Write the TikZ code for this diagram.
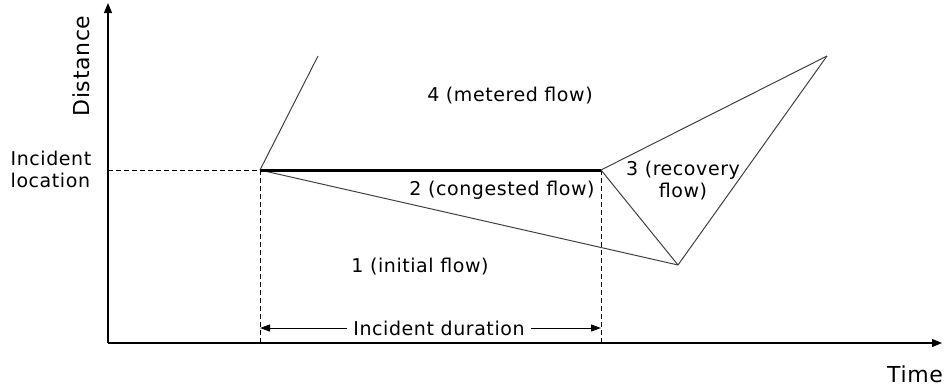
\documentclass[tikz,border=0pt]{standalone}
\usepackage{fontspec}
\setmainfont[LetterSpace=3]{DejaVu Sans}
\usetikzlibrary{arrows.meta}
\begin{document}
\begin{tikzpicture}[x=1pt,y=-1pt,
  axis/.style={line width=1.2pt,-{Triangle[length=10pt,width=8pt]}},
  wave/.style={line width=1pt,draw=black!75},
  guide/.style={line width=1pt,dashed,dash pattern=on 5pt off 3pt},
  lbl/.style={font=\fontsize{19}{22}\selectfont,inner sep=0pt,align=center},
  biglbl/.style={font=\fontsize{22}{26}\selectfont,inner sep=0pt}]
\useasboundingbox (0,0) rectangle (946,389);
% axes
\coordinate (O) at (108,343);
\coordinate (ytop) at (108,3);
\coordinate (xend) at (942,343);
\draw[axis] (O) -- (ytop);
\draw[axis] (O) -- (xend);
% key points
\coordinate (A) at (260,170);
\coordinate (B) at (601,170);
\coordinate (C) at (678,265);
\coordinate (D) at (827,56);
\coordinate (E) at (318,56);
\coordinate (Ay) at (108,170);
\coordinate (Ax) at (260,343);
\coordinate (Bx) at (601,343);
% guides
\draw[guide] (Ay) -- (A);
\draw[guide] (A) -- (Ax);
\draw[guide] (B) -- (Bx);
% shock waves
\draw[wave] (A) -- (E);
\draw[wave] (A) -- (C);
\draw[wave] (B) -- (C);
\draw[wave] (B) -- (D);
\draw[wave] (D) -- (C);
\draw[line width=3pt,line cap=butt] (A) -- (B);
% duration
\node[lbl,fill=white,inner xsep=6pt,inner ysep=2pt] (dur) at (439,328) {Incident duration};
\coordinate (durL) at (260,328);
\coordinate (durR) at (601,328);
\draw[line width=1pt,-{Triangle[length=10pt,width=7pt]}] (dur.west) -- (durL);
\draw[line width=1pt,-{Triangle[length=10pt,width=7pt]}] (dur.east) -- (durR);
% labels
\node[lbl] (l4) at (510,96) {4 (metered flow)};
\node[lbl] (l2) at (502,190) {2 (congested flow)};
\node[lbl] (l3) at (683,181) {3 (recovery\\flow)};
\node[lbl] (l1) at (420,267) {1 (initial flow)};
\node[biglbl,rotate=90] (dist) at (81,66) {Distance};
\node[lbl,align=left] (loc) at (51,169) {Incident\\location};
\node[biglbl] (time) at (915,374) {Time};
\end{tikzpicture}
\end{document}
